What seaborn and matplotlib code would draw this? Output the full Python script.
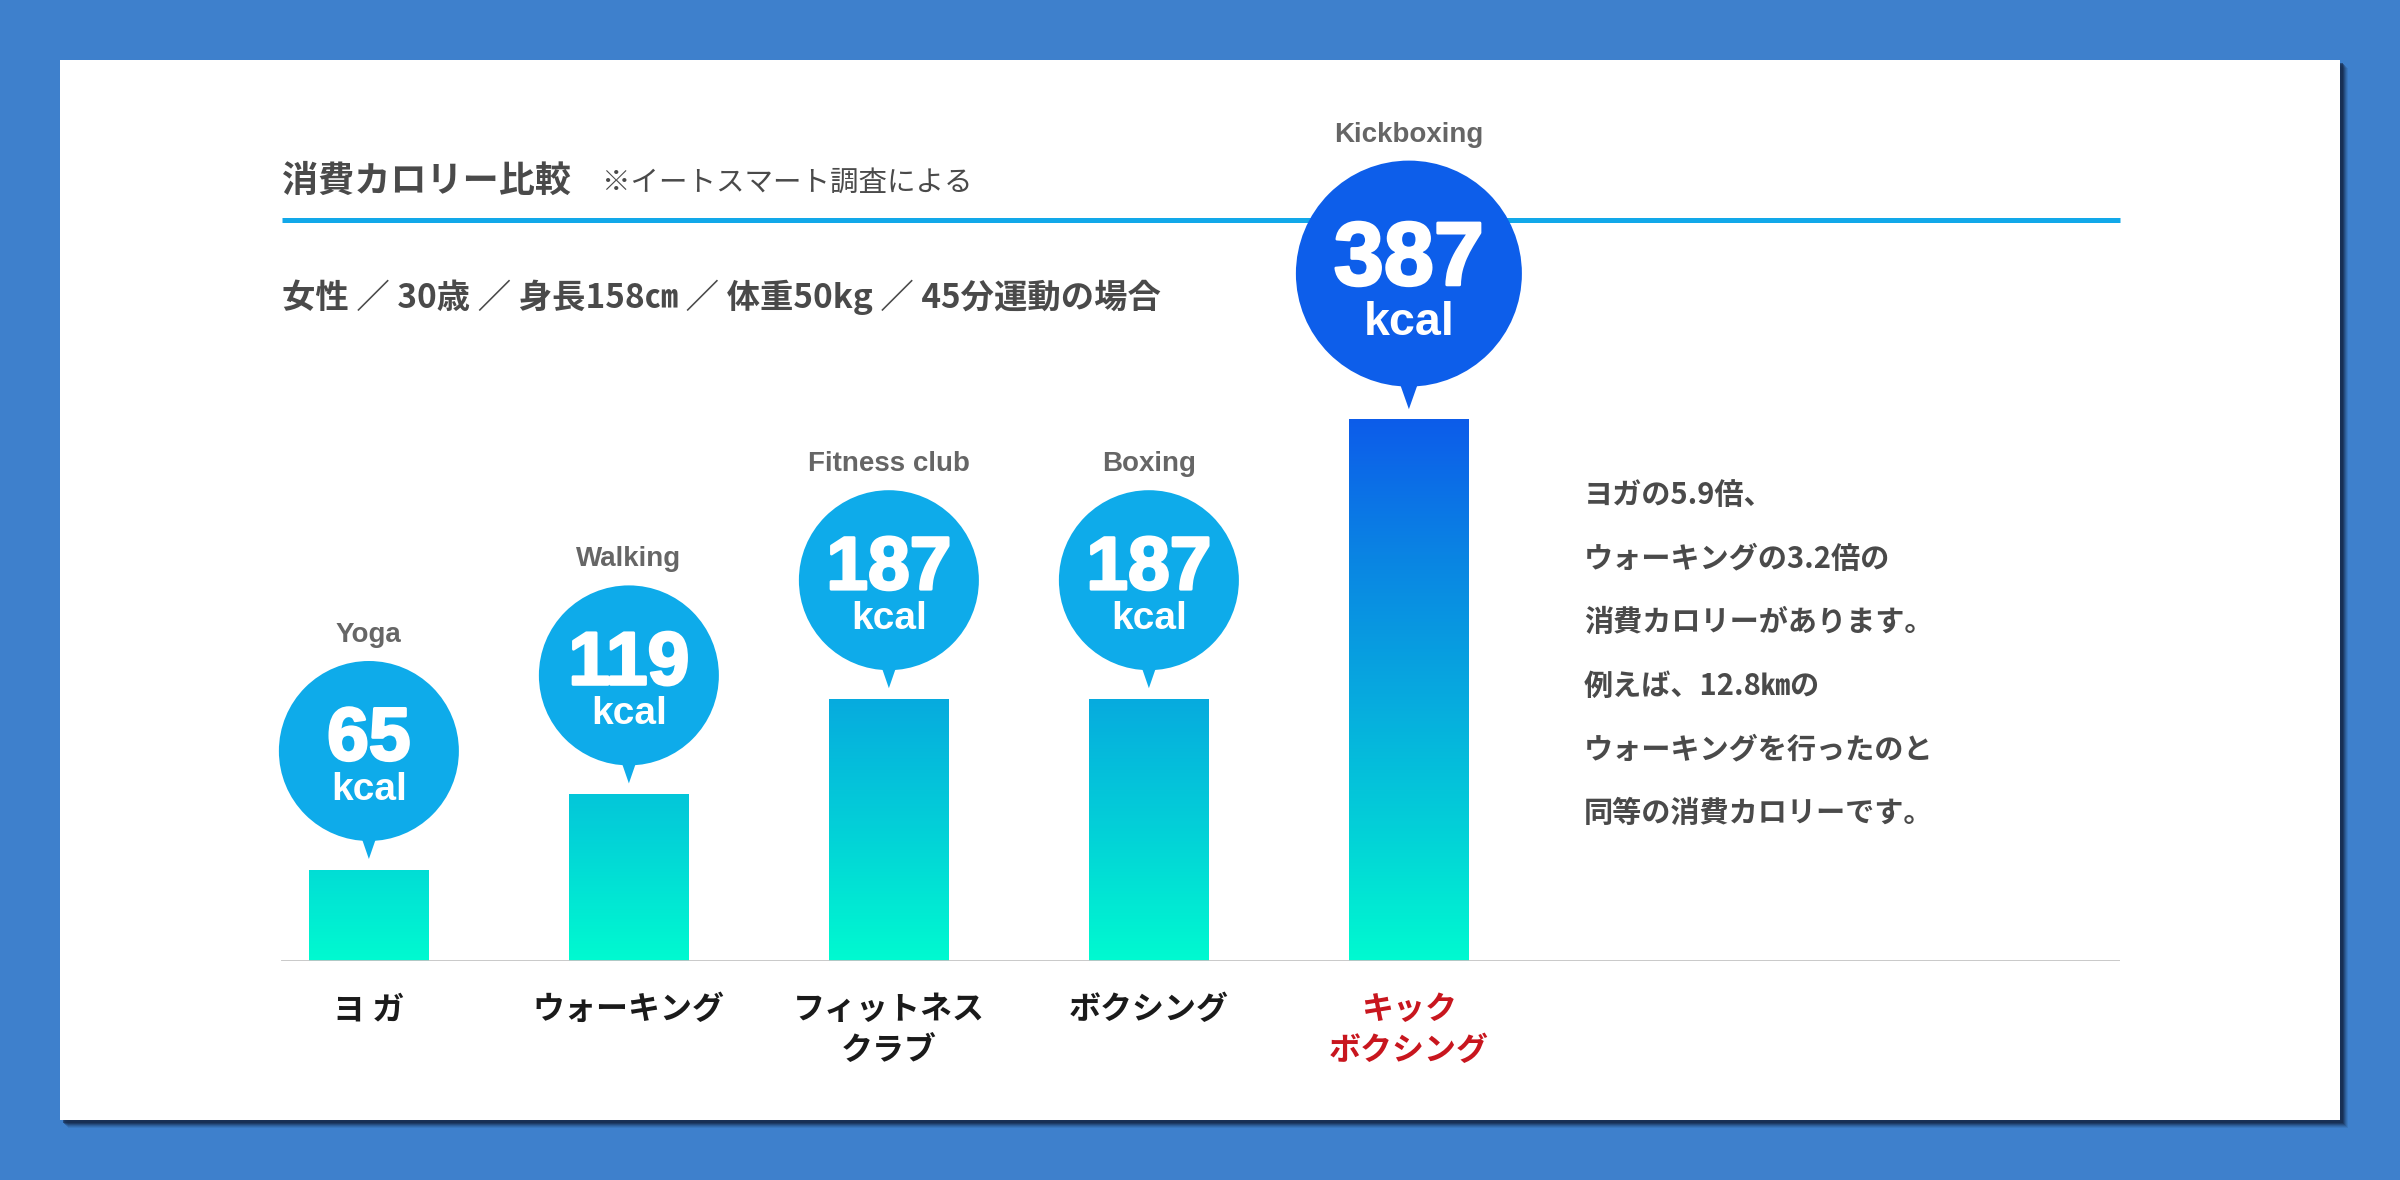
import numpy as np
import matplotlib
matplotlib.use('Agg')
import matplotlib.pyplot as plt
import matplotlib.patheffects as pe
import seaborn as sns
from matplotlib.patches import Rectangle, Circle, Polygon
from matplotlib.colors import LinearSegmentedColormap

sns.set_style('white')
plt.rcParams['font.family'] = ['Noto Sans CJK JP', 'DejaVu Sans']

# data
categories = ['ヨ ガ', 'ウォーキング', 'フィットネス\nクラブ', 'ボクシング', 'キック\nボクシング']
names_en = ['Yoga', 'Walking', 'Fitness club', 'Boxing', 'Kickboxing']
kcal = [65, 119, 187, 187, 387]
highlight = 'キック\nボクシング'

title = '消費カロリー比較'
source = '※イートスマート調査による'
condition = '女性 ／ 30歳 ／ 身長158㎝ ／ 体重50kg ／ 45分運動の場合'
note_lines = ['ヨガの5.9倍、', 'ウォーキングの3.2倍の', '消費カロリーがあります。',
              '例えば、12.8㎞の', 'ウォーキングを行ったのと', '同等の消費カロリーです。']

BG = '#3E80CC'
TEXT = '#4a4a4a'
LATIN = ['Liberation Sans', 'DejaVu Sans']
W, H = 2400, 1180

fig = plt.figure(figsize=(24, 11.8), dpi=100, facecolor=BG)

# background layer in pixel coords (y down)
bg = fig.add_axes([0, 0, 1, 1], zorder=0)
bg.set_xlim(0, W)
bg.set_ylim(H, 0)
bg.axis('off')
for d, a in [(8, 0.10), (7, 0.15), (6, 0.2), (5, 0.3), (4, 0.45), (3, 0.6)]:
    bg.add_patch(Rectangle((60 + d, 60 + d), 2280, 1060, fc='#15294a', ec='none', alpha=a))
bg.add_patch(Rectangle((60, 60), 2280, 1060, fc='white', ec='none'))

bg.text(282, 181, title, fontsize=26, fontweight='bold', color=TEXT, va='center')
bg.text(602, 183, source, fontsize=20.5, color=TEXT, va='center')
bg.plot([282, 2120], [220, 220], color='#12A8E9', lw=3.6, solid_capstyle='butt')
bg.text(282, 297, condition, fontsize=24, fontweight='bold', color=TEXT, va='center')
for j, line in enumerate(note_lines):
    bg.text(1584, 495 + j * 63.6, line, fontsize=21, fontweight='bold', color=TEXT, va='center')

# bar chart
base_px, left_px, right_px, top_px = 961, 281, 2120, 60
ax = fig.add_axes([left_px / W, (H - base_px) / H, (right_px - left_px) / W, (base_px - top_px) / H], zorder=1)
ax.patch.set_alpha(0)
sns.barplot(x=categories, y=kcal, color='#03CFD8', width=0.46, saturation=1, ax=ax)

cmap = LinearSegmentedColormap.from_list('bar', ['#00FAD0', '#03CFD8', '#07A8DF', '#0A84E3', '#0D5CEA'])
grad = np.linspace(0, 1, 256).reshape(-1, 1)
for bar in ax.patches:
    x0, w = bar.get_x(), bar.get_width()
    im = ax.imshow(grad, cmap=cmap, extent=(x0, x0 + w, 0, max(kcal)), origin='lower',
                   aspect='auto', zorder=2)
    im.set_clip_path(bar)
    bar.set_facecolor('none')
    bar.set_edgecolor('none')

px_per_kcal = 1.40
ax.set_ylim(0, (base_px - top_px) / px_per_kcal)
ax.set_xlim(-0.338, 6.735)
ax.axhline(0, color='#c4c4c4', lw=2, zorder=3)

ax.set_xticks(range(len(categories)))
ax.set_xticklabels(categories, fontsize=23, fontweight='bold', color='#1a1a1a', linespacing=1.35)
for lbl in ax.get_xticklabels():
    if lbl.get_text() == highlight:
        lbl.set_color('#C8161E')
ax.tick_params(axis='x', length=0, pad=24)
ax.set_yticks([])
ax.set_xlabel('')
ax.set_ylabel('')
sns.despine(ax=ax, left=True, bottom=True)

# speech bubbles on top layer
fg = fig.add_axes([0, 0, 1, 1], zorder=2)
fg.set_xlim(0, W)
fg.set_ylim(H, 0)
fg.axis('off')
fg.patch.set_alpha(0)

for i, (name, v) in enumerate(zip(names_en, kcal)):
    big = categories[i] == highlight
    r = 113 if big else 90
    s = 1.2 if big else 1.0
    col = '#0D5EEA' if big else '#0EABEA'
    gap = 10 if big else 11
    cx, top = fg.transData.inverted().transform(ax.transData.transform((i, v)))
    tip = top - gap
    cy = tip - 0.2 * r - r
    fg.add_patch(Circle((cx, cy), r, fc=col, ec='none'))
    fg.add_patch(Polygon([(cx - 9 * s, cy + r - 8), (cx + 9 * s, cy + r - 8), (cx, tip)], fc=col, ec='none'))
    fg.text(cx, cy + 0.1 * r, str(v), ha='center', va='baseline', fontsize=54 * s, fontweight='bold',
            family=LATIN, color='white', path_effects=[pe.withStroke(linewidth=2, foreground='white')])
    fg.text(cx, cy + 0.545 * r, 'kcal', ha='center', va='baseline', fontsize=28 * s, fontweight='bold',
            family=LATIN, color='white')
    fg.text(cx, cy - r - 26, name, ha='center', va='center', fontsize=20, fontweight='bold',
            family=LATIN, color='#666666')

fig.savefig('out.png', dpi=100, facecolor=BG)
